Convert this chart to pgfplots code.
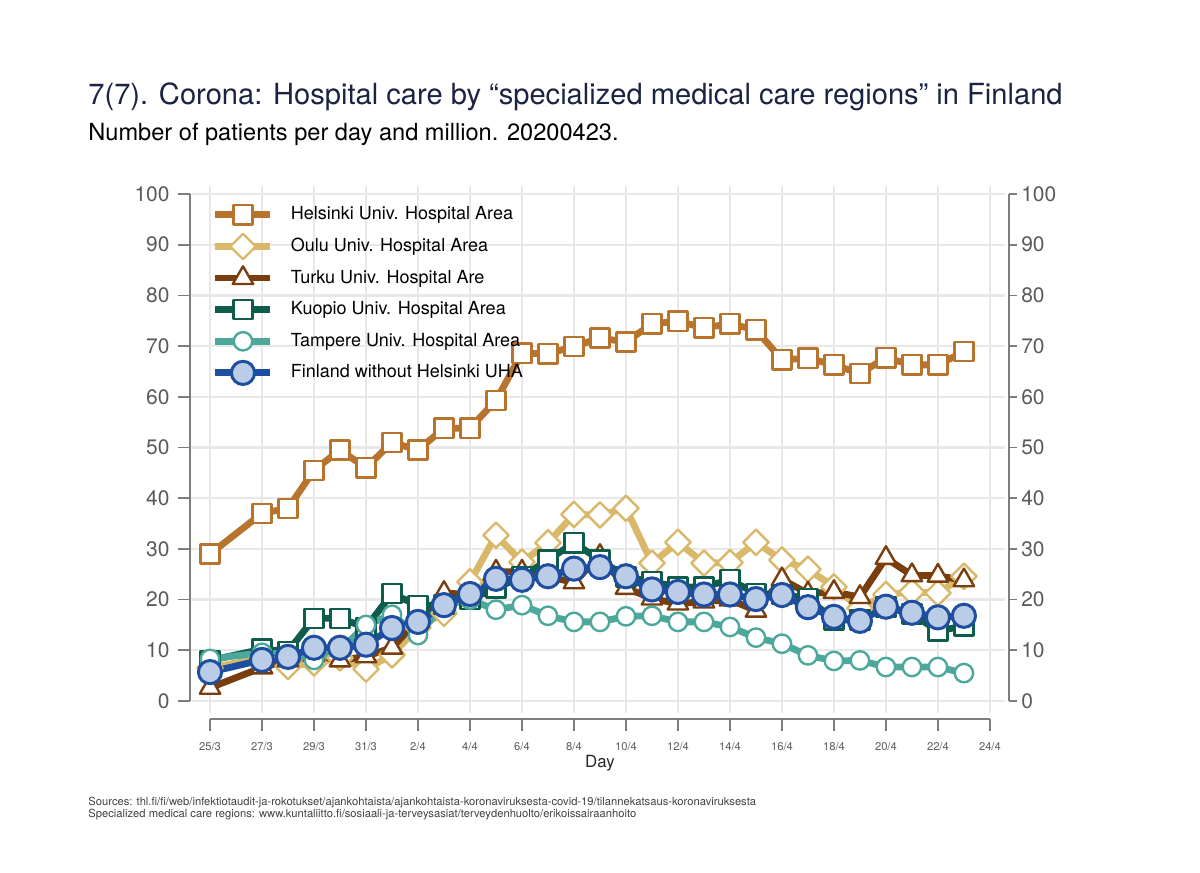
\documentclass[border=0pt]{standalone}
\usepackage{fontspec}
\setmainfont{TeX Gyre Heros}
\usepackage{pgfplots}
\pgfplotsset{compat=1.18}
\usepackage{pgfplotstable}

\definecolor{cHel}{RGB}{184,115,45}
\definecolor{cOulu}{RGB}{218,184,106}
\definecolor{cTurku}{RGB}{122,62,14}
\definecolor{cKuo}{RGB}{14,92,75}
\definecolor{cTam}{RGB}{76,168,154}
\definecolor{cFin}{RGB}{30,78,160}
\definecolor{cFinFill}{RGB}{186,204,230}
\definecolor{cTitle}{RGB}{26,35,66}
\definecolor{cAxis}{RGB}{125,125,125}
\definecolor{cGrid}{RGB}{232,232,232}
\definecolor{cTick}{RGB}{90,90,90}

\pgfplotstableread{
d H O T K Tm F
0 29.0 6.5 2.6 8.0 8.3 5.7
2 37.0 8.5 6.6 10.2 9.5 8.1
3 38.0 6.8 8.0 9.8 9.2 8.7
4 45.5 7.5 9.0 16.3 8.1 10.5
5 49.5 8.5 8.0 16.3 10.0 10.5
6 46.0 6.3 8.8 14.5 15.0 11.1
7 51.0 9.1 10.5 21.2 17.0 14.4
8 49.5 14.5 16.0 18.8 13.0 15.6
9 53.8 17.3 21.3 19.0 19.0 18.9
10 53.8 23.5 21.0 20.0 20.0 21.1
11 59.3 32.7 25.5 22.3 18.0 24.1
12 68.6 27.4 25.5 24.5 18.9 23.9
13 68.5 31.2 24.5 27.8 16.8 24.6
14 69.9 36.8 23.4 31.2 15.6 26.1
15 71.6 36.7 28.6 27.8 15.6 26.4
16 70.8 38.0 22.3 24.5 16.7 24.6
17 74.4 27.2 20.2 23.5 16.8 22.0
18 74.9 31.3 19.2 22.5 15.6 21.5
19 73.6 27.2 19.6 22.5 15.6 21.0
20 74.4 27.3 20.0 23.9 14.6 21.0
21 73.2 31.3 17.8 21.2 12.5 20.1
22 67.3 27.8 24.0 21.0 11.3 20.9
23 67.6 26.0 21.2 20.2 9.0 18.5
24 66.3 22.5 21.5 16.0 7.9 16.6
25 64.6 18.3 20.5 16.0 8.0 15.8
26 67.7 21.0 28.2 18.5 6.7 18.6
27 66.3 21.5 24.8 17.2 6.7 17.4
28 66.3 21.3 24.7 13.8 6.7 16.5
29 68.9 24.6 23.8 14.8 5.5 16.8
}\data

\begin{document}
\begin{tikzpicture}
\path[use as bounding box] (0,0) rectangle (600pt,436.5pt);
\node[anchor=base west, inner sep=0pt, text=cTitle, font=\fontsize{14.55}{17}\selectfont] at (44pt,384pt) {7(7). Corona: Hospital care by “specialized medical care regions” in Finland};
\node[anchor=base west, inner sep=0pt, text=black, font=\fontsize{11.8}{14}\selectfont] at (44pt,366pt) {Number of patients per day and million. 20200423.};
\node[anchor=base west, inner sep=0pt, text=black!75, font=\fontsize{5.6}{7}\selectfont] at (44pt,33.5pt) {Sources: thl.fi/fi/web/infektiotaudit-ja-rokotukset/ajankohtaista/ajankohtaista-koronaviruksesta-covid-19/tilannekatsaus-koronaviruksesta};
\node[anchor=base west, inner sep=0pt, text=black!75, font=\fontsize{5.6}{7}\selectfont] at (44pt,27.5pt) {Specialized medical care regions: www.kuntaliitto.fi/sosiaali-ja-terveysasiat/terveydenhuolto/erikoissairaanhoito};
\begin{axis}[
  at={(95pt,80pt)}, anchor=south west, scale only axis,
  width=407.5pt, height=263.5pt,
  xmin=-0.77, xmax=30.58, ymin=-2.37, ymax=101.58,
  clip=false,
  axis line style={draw=none},
  xtick={0,2,...,30}, ytick={0,10,...,100},
  xticklabels={25/3,27/3,29/3,31/3,2/4,4/4,6/4,8/4,10/4,12/4,14/4,16/4,18/4,20/4,22/4,24/4},
  yticklabels={0,10,20,30,40,50,60,70,80,90,100},
  major tick length=0pt,
  xticklabel style={inner sep=0pt, anchor=north, yshift=-14.5pt, text=cTick, font=\fontsize{5.6}{6}\selectfont},
  yticklabel style={inner sep=0pt, anchor=east, xshift=-10pt, text=cTick, font=\fontsize{10.5}{12}\selectfont},
  grid=major, grid style={cGrid, line width=1.1pt},
  legend cell align=left,
  legend style={at={(axis cs:0.08,99.0)}, anchor=north west, draw=none, fill=none,
    inner sep=0pt, outer sep=0pt, font=\fontsize{9}{10}\selectfont,
    nodes={inner sep=0pt, minimum height=15.8pt},
    row sep=0pt,
    /tikz/every odd column/.append style={column sep=8.5pt}},
  legend image code/.code={\draw[mark repeat=2,mark phase=2] plot coordinates {(0pt,0pt) (13.75pt,0pt) (27.5pt,0pt)};},
  every axis plot/.append style={line join=round},
]
\addplot[cHel, line width=3.4pt, mark=square*, mark size=4.8pt, mark options={solid, fill=white, draw=cHel, line width=1.2pt}] table[x=d,y=H]{\data};
\addlegendentry{Helsinki Univ. Hospital Area}
\addplot[cOulu, line width=3.4pt, mark=square*, mark size=4.5pt, mark options={solid, rotate=45, fill=white, draw=cOulu, line width=1.2pt}] table[x=d,y=O]{\data};
\addlegendentry{Oulu Univ. Hospital Area}
\addplot[cTurku, line width=3.4pt, mark=triangle*, mark size=5.9pt, mark options={solid, fill=white, draw=cTurku, line width=1.2pt}] table[x=d,y=T]{\data};
\addlegendentry{Turku Univ. Hospital Are}
\addplot[cKuo, line width=3.4pt, mark=square*, mark size=4.8pt, mark options={solid, fill=white, draw=cKuo, line width=1.2pt}] table[x=d,y=K]{\data};
\addlegendentry{Kuopio Univ. Hospital Area}
\addplot[cTam, line width=3.4pt, mark=*, mark size=4.6pt, mark options={solid, fill=white, draw=cTam, line width=1.2pt}] table[x=d,y=Tm]{\data};
\addlegendentry{Tampere Univ. Hospital Area}
\addplot[cFin, line width=3.4pt, mark=*, mark size=5.8pt, mark options={solid, fill=cFinFill, draw=cFin, line width=1.5pt}] table[x=d,y=F]{\data};
\addlegendentry{Finland without Helsinki UHA}
% axis lines
\draw[cAxis, line width=0.8pt] (axis cs:-0.77,0) -- (axis cs:-0.77,100);
\draw[cAxis, line width=0.8pt] (axis cs:30.73,0) -- (axis cs:30.73,100);
\draw[cAxis, line width=0.8pt] (axis cs:0,-3.55) -- (axis cs:30,-3.55);
\pgfplotsinvokeforeach{0,10,...,100}{
  \draw[cAxis, line width=0.8pt] (axis cs:-0.77,#1) -- (axis cs:-1.23,#1);
  \draw[cAxis, line width=0.8pt] (axis cs:30.73,#1) -- (axis cs:31.04,#1);
  \node[anchor=west, inner sep=0pt, text=cTick, font=\fontsize{10.5}{12}\selectfont] at (axis cs:31.19,#1) {#1};
}
\pgfplotsinvokeforeach{0,2,...,30}{
  \draw[cAxis, line width=0.8pt] (axis cs:#1,-3.55) -- (axis cs:#1,-5.92);
}
\node[anchor=north, inner sep=0pt, text=black!85, font=\fontsize{8.4}{10}\selectfont] at (axis cs:15,-10.6) {Day};
\end{axis}
\end{tikzpicture}
\end{document}
